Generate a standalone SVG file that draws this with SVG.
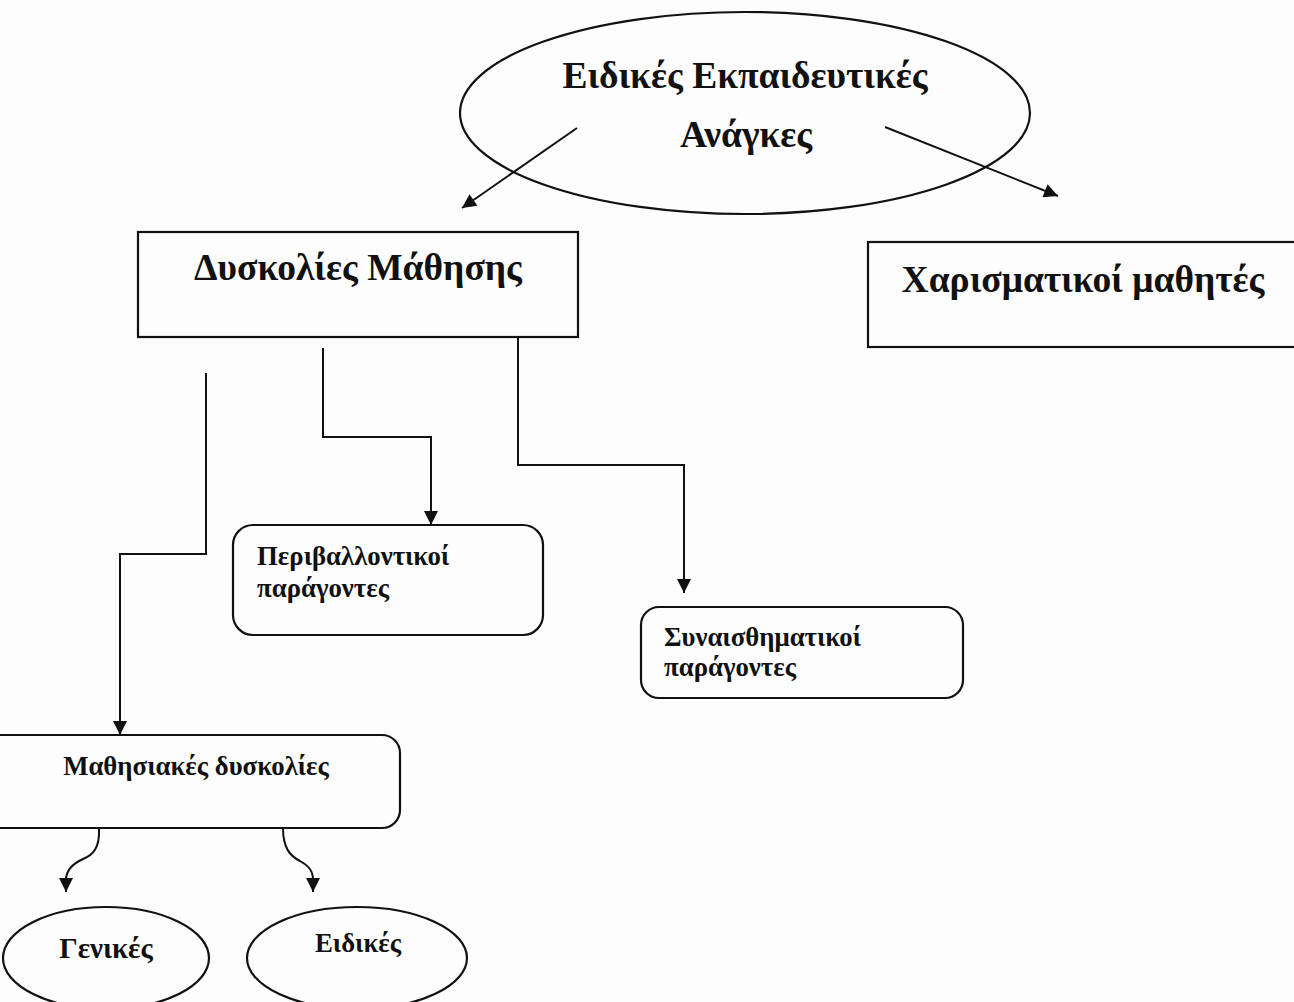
<svg xmlns="http://www.w3.org/2000/svg" width="1294" height="1002" viewBox="0 0 1294 1002">
<defs>
<style>
.shape{fill:none;stroke:#111;stroke-width:2.2}
.conn{fill:none;stroke:#111;stroke-width:2}
.t{font-family:"Liberation Serif","Times New Roman",serif;font-weight:bold;fill:#111}
.big{font-size:37.5px}
.mid{font-size:26.8px}
.oval{font-size:29px}
</style>
<marker id="ah" viewBox="0 0 14 14" refX="14" refY="7" markerWidth="15" markerHeight="14" markerUnits="userSpaceOnUse" orient="auto">
<path d="M0,0 L14,7 L0,14 Z" fill="#111"/>
</marker>
</defs>
<rect width="1294" height="1002" fill="#fdfdfd"/>
<g id="n-needs">
<ellipse class="shape" cx="745" cy="113" rx="285" ry="101"/>
<text class="t big" x="745" y="88" text-anchor="middle">Ειδικές Εκπαιδευτικές</text>
<text class="t big" x="746" y="147" text-anchor="middle">Ανάγκες</text>
</g>
<g id="n-difficulties">
<rect class="shape" x="138" y="232" width="440" height="105"/>
<text class="t big" x="358" y="280" text-anchor="middle">Δυσκολίες Μάθησης</text>
</g>
<g id="n-gifted">
<rect class="shape" x="868" y="242" width="440" height="105"/>
<text class="t big" x="1083" y="292" text-anchor="middle">Χαρισματικοί μαθητές</text>
</g>
<g id="n-env">
<rect class="shape" x="233" y="525" width="310" height="110" rx="20"/>
<text class="t mid" x="257" y="565">Περιβαλλοντικοί</text>
<text class="t mid" x="257" y="597">παράγοντες</text>
</g>
<g id="n-emo">
<rect class="shape" x="641" y="607" width="322" height="91" rx="18"/>
<text class="t mid" x="664" y="646">Συναισθηματικοί</text>
<text class="t mid" x="664" y="676">παράγοντες</text>
</g>
<g id="n-learning">
<rect class="shape" x="-30" y="735" width="430" height="93" rx="18"/>
<text class="t mid" x="196" y="775" text-anchor="middle">Μαθησιακές δυσκολίες</text>
</g>
<g id="n-general">
<ellipse class="shape" cx="106" cy="958" rx="103" ry="51"/>
<text class="t oval" x="106" y="958" text-anchor="middle">Γενικές</text>
</g>
<g id="n-specific">
<ellipse class="shape" cx="357" cy="958" rx="110" ry="51"/>
<text class="t mid" x="358" y="952" text-anchor="middle">Ειδικές</text>
</g>
<g id="connectors">
<path class="conn" d="M577,128 L462,208" marker-end="url(#ah)"/>
<path class="conn" d="M885,127 L1058,196" marker-end="url(#ah)"/>
<path class="conn" d="M206,373 V554 H120 V735" marker-end="url(#ah)"/>
<path class="conn" d="M323,348 V437 H431 V525" marker-end="url(#ah)"/>
<path class="conn" d="M518,337 V465 H684 V593" marker-end="url(#ah)"/>
<path class="conn" d="M99,828 C100,848 93,855 83,859 C72,864 66,870 66,880 L66,892" marker-end="url(#ah)"/>
<path class="conn" d="M283,828 C283,848 290,856 300,861 C309,866 313,871 313,880 L313,892" marker-end="url(#ah)"/>
</g>
</svg>
